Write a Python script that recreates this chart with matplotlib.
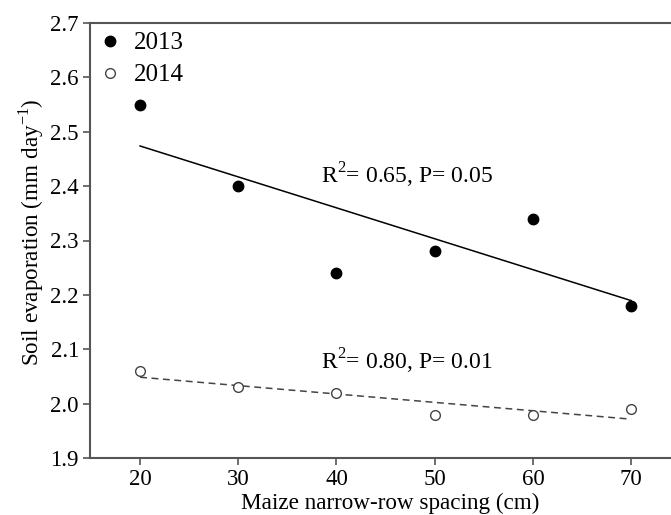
"""
soil evaporation vs maize narrow-row spacing
"""
import numpy as np
import matplotlib
matplotlib.use("Agg")
import matplotlib.pyplot as plt

plt.rcParams['font.family'] = ['Liberation Serif', 'DejaVu Serif']
plt.rcParams['mathtext.fontset'] = 'custom'
plt.rcParams['mathtext.rm'] = 'Liberation Serif'

spacing = [20, 30, 40, 50, 60, 70]
evap_2013 = [2.55, 2.40, 2.24, 2.28, 2.34, 2.18]
evap_2014 = [2.06, 2.03, 2.02, 1.98, 1.98, 1.99]
label_2013 = "R$^2$= 0.65, P= 0.05"
label_2014 = "R$^2$= 0.80, P= 0.01"

fig = plt.figure(figsize=(6.71, 5.15), dpi=100)
ax = fig.add_axes([90 / 671, 1 - 458 / 515, 600 / 671, 435 / 515])

x = np.array(spacing, dtype=float)

# fitted lines
k13, b13 = np.polyfit(x, evap_2013, 1)
k14, b14 = np.polyfit(x, evap_2014, 1)
ax.plot(x, k13 * x + b13, color='black', lw=1.1)
ax.plot(x, k14 * x + b14, color='#444444', lw=1.1, ls=(0, (4.5, 3)))

ax.plot(spacing, evap_2013, 'o', color='black', ms=7.5, label='2013', zorder=3)
ax.plot(spacing, evap_2014, 'o', mfc='white', mec='#444444', mew=1.0, ms=7,
        label='2014', zorder=3)

ax.text(38.4, 2.42, label_2013, fontsize=17, va='center', ha='left')
ax.text(38.4, 2.077, label_2014, fontsize=17, va='center', ha='left')

ax.set_xlim(14.9, 76)
ax.set_ylim(1.9, 2.7)
ax.set_xticks(spacing)
ax.set_yticks(np.arange(1.9, 2.71, 0.1))
ax.set_yticklabels([f"{v:.1f}" for v in np.arange(1.9, 2.71, 0.1)])
ax.tick_params(labelsize=16.5, direction='out', length=5, width=1.2,
               color='#555555', pad=3)

ax.spines['right'].set_visible(False)
for s in ['left', 'bottom', 'top']:
    ax.spines[s].set_color('#555555')
    ax.spines[s].set_linewidth(1.5)

ax.set_xlabel("Maize narrow-row spacing (cm)", fontsize=16.7, labelpad=2)
ax.set_ylabel("Soil evaporation (mm day$^{-1}$)", fontsize=16.7)
ax.yaxis.set_label_coords(-0.074, 0.52)

ax.legend(loc='upper left', frameon=False, fontsize=18, handletextpad=0.5,
          borderaxespad=0.1, handlelength=0.9, labelspacing=0.38,
          borderpad=0.25)

fig.savefig("out.png", dpi=100)
